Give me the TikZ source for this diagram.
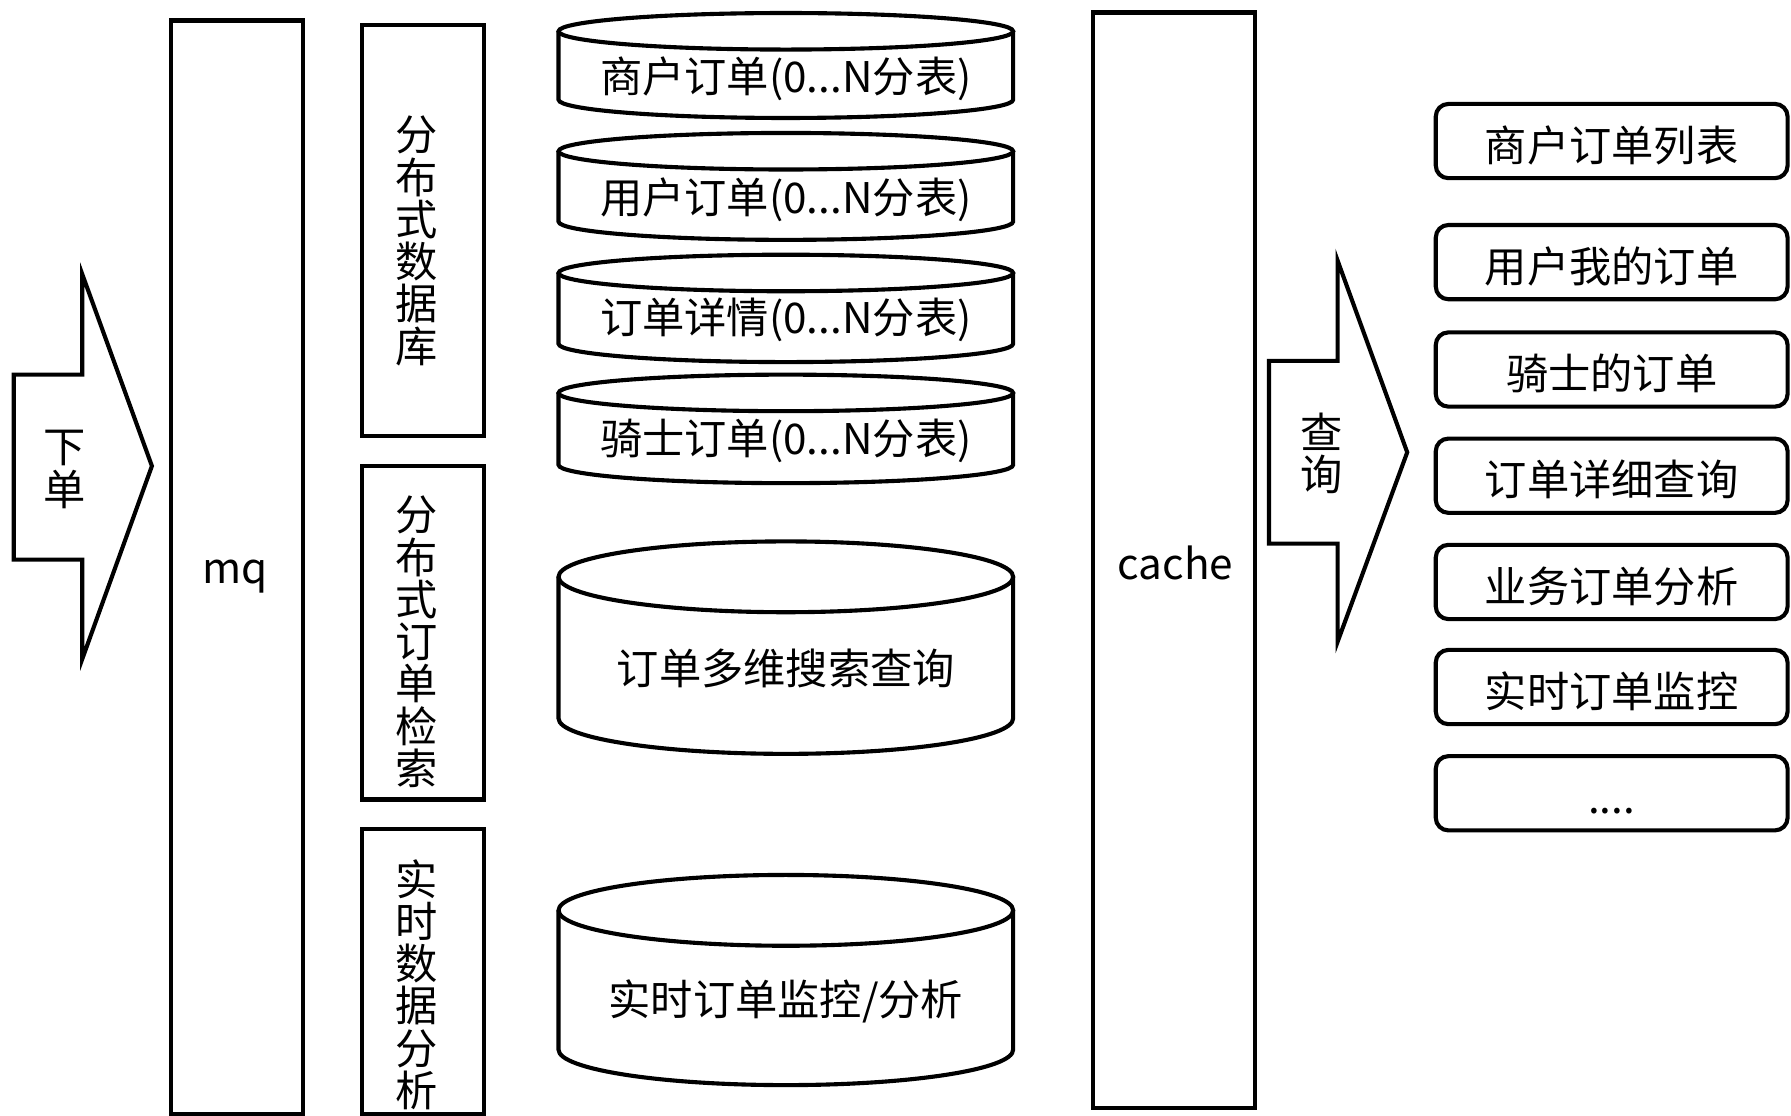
\documentclass[tikz,border=0pt]{standalone}
\usepackage{fontspec}
\setmainfont{Noto Sans CJK SC}
\newcommand\myfs{\fontsize{18.5pt}{22pt}\selectfont}
\newcommand\myvfs{\fontsize{18.5pt}{18.5pt}\selectfont}
\newcommand\mycyl[3]{%
  % #1 top-ellipse centre y, #2 bottom-arc centre y, #3 y radius (pt)
  \draw[fill=white] (688,#1) ellipse [x radius=99.5pt, y radius=#3];
  \draw (489,#1) -- (489,#2) arc [start angle=180, end angle=360, x radius=99.5pt, y radius=#3] -- (887,#1);
}
\begin{document}
\begin{tikzpicture}[x=0.5pt,y=-0.5pt,
  line width=1.8pt, line join=miter,
  box/.style={draw, line width=1.8pt, inner sep=0pt, outer sep=0pt, font=\myfs},
  rbox/.style={draw, line width=1.8pt, rounded corners=5.5pt, minimum width=154pt, minimum height=32.5pt,
    inner sep=0pt, outer sep=0pt, text height=19.4pt, text depth=1.85pt, font=\myfs},
  txt/.style={inner sep=0pt, font=\myfs},
  vtxt/.style={inner sep=0pt, align=center, font=\myvfs}]
\useasboundingbox (0,0) rectangle (1568,977);

% left arrow
\draw (12,328) -- (72,328) -- (72,240) -- (133,408) -- (72,577) -- (72,490) -- (12,490) -- cycle;
\node[vtxt] (xiadan) at (57,411) {下\\单};

% mq
\node[box, minimum width=57.5pt, minimum height=478.5pt] (mq) at (207.5,496.5) {};
\node[txt] (mqtxt) at (206,505) {mq};

% category boxes
\node[box, minimum width=53.5pt, minimum height=180pt] (dbbox) at (370.5,202) {};
\node[vtxt] (dbtxt) at (365,211) {分\\布\\式\\数\\据\\库};
\node[box, minimum width=53.5pt, minimum height=146pt] (srbox) at (370.5,554) {};
\node[vtxt] (srtxt) at (365,562) {分\\布\\式\\订\\单\\检\\索};
\node[box, minimum width=53.5pt, minimum height=124.5pt] (rtbox) at (370.5,850.5) {};
\node[vtxt] (rttxt) at (365,862) {实\\时\\数\\据\\分\\析};

% cylinders
\mycyl{27.4}{87.3}{8pt}
\node[txt] (c1) at (688,69) {商户订单(0...N分表)};
\mycyl{132.4}{194}{8pt}
\node[txt] (c2) at (688,174.5) {用户订单(0...N分表)};
\mycyl{239}{301}{8pt}
\node[txt] (c3) at (688,280) {订单详情(0...N分表)};
\mycyl{344}{407}{8pt}
\node[txt] (c4) at (688,386) {骑士订单(0...N分表)};
\mycyl{505}{629}{15.5pt}
\node[txt] (c5) at (688,585) {订单多维搜索查询};
\mycyl{797}{919}{15.5pt}
\node[txt] (c6) at (688,877) {实时订单监控/分析};

% cache
\node[box, minimum width=71pt, minimum height=479.5pt] (cache) at (1028,490.5) {};
\node[txt] (cachetxt) at (1029,493) {cache};

% query arrow
\draw (1111,316) -- (1171,316) -- (1171,228) -- (1232,396) -- (1171,562) -- (1171,476) -- (1111,476) -- cycle;
\node[vtxt] (chaxun) at (1157,397) {查\\询};

% right boxes
\node[rbox] (r1) at (1411,123.5) {商户订单列表};
\node[rbox] (r2) at (1411,229.5) {用户我的订单};
\node[rbox] (r3) at (1411,323.5) {骑士的订单};
\node[rbox] (r4) at (1411,416.5) {订单详细查询};
\node[rbox] (r5) at (1411,509.5) {业务订单分析};
\node[rbox] (r6) at (1411,601.5) {实时订单监控};
\node[rbox] (r7) at (1411,694.5) {....};
\end{tikzpicture}
\end{document}
